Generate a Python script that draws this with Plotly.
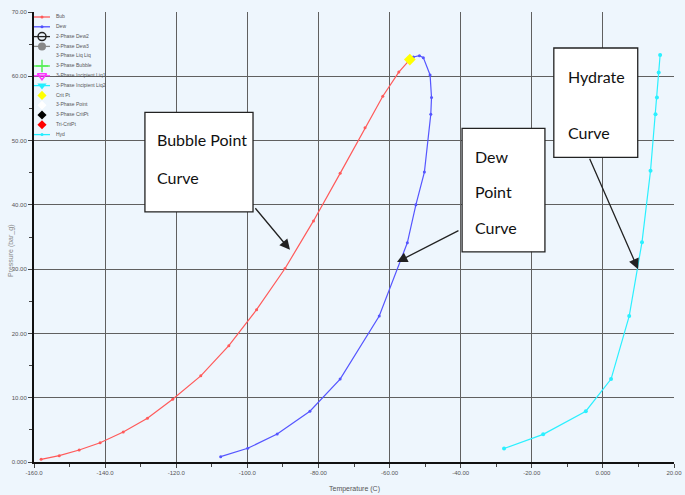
import plotly.graph_objects as go

# ---------------- data ----------------
bub_T = [-158.0, -152.9, -147.3, -141.4, -134.9, -128.1, -121.0, -113.1, -105.2,
         -97.4, -89.4, -81.4, -73.9, -66.9, -61.9, -57.4, -54.3]
bub_P = [0.42, 0.98, 1.87, 3.0, 4.67, 6.8, 9.75, 13.4, 18.1,
         23.7, 30.1, 37.5, 44.9, 52.0, 56.9, 60.65, 62.6]

dew_T = [-107.5, -99.9, -91.6, -82.4, -73.9, -62.9, -55.0, -52.6, -50.2,
         -48.4, -48.2, -48.6, -50.5, -51.6, -53.3, -54.3]
dew_P = [0.83, 2.13, 4.35, 7.9, 12.9, 22.7, 34.1, 40.0, 45.1,
         54.1, 56.7, 60.2, 62.9, 63.2, 63.0, 62.6]

hyd_T = [-27.8, -16.8, -4.8, 2.3, 7.4, 11.0, 13.4, 14.8, 15.2, 15.7, 16.1]
hyd_P = [2.1, 4.3, 7.9, 12.9, 22.7, 34.2, 45.3, 54.1, 56.7, 60.6, 63.3]

crit_T = [-54.3]
crit_P = [62.6]

x_ticks = [-160, -140, -120, -100, -80, -60, -40, -20, 0, 20]
x_ticktext = ["-160.0", "-140.0", "-120.0", "-100.0", "-80.00", "-60.00",
              "-40.00", "-20.00", "0.000", "20.00"]
y_ticks = [0, 10, 20, 30, 40, 50, 60, 70]
y_ticktext = ["0.000", "10.00", "20.00", "30.00", "40.00", "50.00", "60.00", "70.00"]

legend_names = ["Bub", "Dew", "2-Phase Dew2", "2-Phase Dew3", "3-Phase Liq Liq",
                "3-Phase Bubble", "3-Phase Incipient Liq1", "3-Phase Incipient Liq2",
                "Crit Pt", "3-Phase Point", "3-Phase CritPt", "Tri-CritPt", "Hyd"]
legend_colors = ["#ff5a5a", "#5050ff", "#222222", "#888888", "rgba(0,0,0,0)",
                 "#55ee55", "#ff33ff", "#22eeff", "#ffff00", "#ffffff",
                 "#000000", "#ff0000", "#22eeff"]
legend_symbols = ["circle", "circle", "circle-open", "circle", "circle",
                  "cross-thin-open", "triangle-down-open", "triangle-down", "diamond",
                  "diamond", "diamond", "diamond", "circle"]
legend_msize = [3, 3, 8, 8, 0, 9, 8, 8, 7, 7, 7, 7, 3]
legend_hasline = [True, True, True, True, False, True, True, True,
                  False, False, False, False, True]

bg = "#eef6fd"
box_font = "Lato"
fig = go.Figure()

fig.add_trace(go.Scatter(x=bub_T, y=bub_P, mode="lines+markers",
                         line=dict(color="#ff5a5a", width=1.2),
                         marker=dict(size=3, color="#ff5a5a"), showlegend=False))
fig.add_trace(go.Scatter(x=dew_T, y=dew_P, mode="lines+markers",
                         line=dict(color="#5555ff", width=1.2),
                         marker=dict(size=3, color="#5555ff"), showlegend=False))
fig.add_trace(go.Scatter(x=hyd_T, y=hyd_P, mode="lines+markers",
                         line=dict(color="#2af0ff", width=1.2),
                         marker=dict(size=4, color="#2af0ff"), showlegend=False))
fig.add_trace(go.Scatter(x=crit_T, y=crit_P, mode="markers",
                         marker=dict(size=9, color="#ffff00", symbol="diamond"),
                         showlegend=False))

# ---- manual legend on an overlay pixel axis ----
leg_y0, leg_dy = 17, 9.8
for i, name in enumerate(legend_names):
    yy = leg_y0 + i * leg_dy
    if legend_hasline[i]:
        fig.add_trace(go.Scatter(x=[34, 50], y=[yy, yy], mode="lines",
                                 line=dict(color=legend_colors[i], width=1.3),
                                 xaxis="x2", yaxis="y2", showlegend=False,
                                 hoverinfo="skip"))
    if legend_msize[i] > 0:
        sym = legend_symbols[i]
        lw = 1.5 if ("open" in sym) else 0
        fig.add_trace(go.Scatter(x=[42], y=[yy], mode="markers",
                                 marker=dict(size=legend_msize[i], color=legend_colors[i],
                                             symbol=sym,
                                             line=dict(width=lw, color=legend_colors[i])),
                                 xaxis="x2", yaxis="y2", showlegend=False,
                                 hoverinfo="skip"))
    fig.add_trace(go.Scatter(x=[56], y=[yy], mode="text", text=[name],
                             textposition="middle right",
                             textfont=dict(size=5, color="#555555", family="Liberation Sans"),
                             xaxis="x2", yaxis="y2", showlegend=False, hoverinfo="skip"))

# ---- annotation boxes ----
boxes = [(-128.8, -98.4, 38.9, 54.4), (-39.6, -16.3, 32.7, 51.9), (-13.8, 9.8, 47.4, 64.4)]
for x0, x1, y0, y1 in boxes:
    fig.add_shape(type="rect", x0=x0, x1=x1, y0=y0, y1=y1, xref="x", yref="y",
                  fillcolor="white", line=dict(color="#222222", width=1.3), layer="above")

labels = [("Bubble Point", -126.0, 50.1), ("Curve", -126.0, 44.2),
          ("Dew", -36.5, 47.6), ("Point", -36.5, 42.1), ("Curve", -36.5, 36.5),
          ("Hydrate", -10.4, 59.9), ("Curve", -10.4, 51.3)]
for txt, x, y in labels:
    fig.add_annotation(x=x, y=y, text=txt, showarrow=False, xanchor="left",
                       font=dict(size=16, color="#111111", family=box_font))

arrows = [(-98.1, 39.7, -88.0, 33.0), (-40.2, 36.1, -57.9, 31.1), (-3.9, 47.4, 9.9, 30.0)]
for tx, ty, hx, hy in arrows:
    fig.add_annotation(x=hx, y=hy, ax=tx, ay=ty, axref="x", ayref="y", xref="x", yref="y",
                       text="", showarrow=True, arrowhead=2, arrowsize=1.6,
                       arrowwidth=1.3, arrowcolor="#222222")

# axis titles
fig.add_annotation(x=0.5, y=-0.06, xref="paper", yref="paper", text="Temperature (C)",
                   showarrow=False, yanchor="middle",
                   font=dict(size=7, color="#555555", family="Liberation Sans"))
fig.add_annotation(x=-0.046, y=0.47, xref="paper", yref="paper", text="Pressure (bar_g)",
                   showarrow=False, textangle=-90,
                   font=dict(size=7, color="#888888", family="Liberation Sans"))

fig.update_layout(
    width=685, height=495,
    margin=dict(l=34, r=11, t=12, b=33, autoexpand=False),
    paper_bgcolor=bg, plot_bgcolor=bg,
    showlegend=False,
    xaxis=dict(range=[-160, 20], tickvals=x_ticks, ticktext=x_ticktext, automargin=False,
               showgrid=True, gridcolor="#606060", gridwidth=1.2,
               showline=True, linecolor="#111111", linewidth=2,
               ticks="outside", ticklen=4, tickcolor="#444444",
               minor=dict(dtick=10, ticks="outside", ticklen=3, tickcolor="#444444", showgrid=False),
               tickfont=dict(size=6, color="#555555", family="Liberation Sans"),
               zeroline=False, fixedrange=True),
    yaxis=dict(range=[0, 70], tickvals=y_ticks, ticktext=y_ticktext, automargin=False,
               showgrid=True, gridcolor="#606060", gridwidth=1.2,
               showline=True, linecolor="#111111", linewidth=2,
               ticks="outside", ticklen=4, tickcolor="#444444",
               minor=dict(dtick=5, ticks="outside", ticklen=3, tickcolor="#444444", showgrid=False),
               tickfont=dict(size=6, color="#555555", family="Liberation Sans"),
               zeroline=False, fixedrange=True),
    xaxis2=dict(range=[34, 674], overlaying="x", visible=False, fixedrange=True, automargin=False),
    yaxis2=dict(range=[462, 12], overlaying="y", visible=False, fixedrange=True, automargin=False),
)

fig.write_html("out.html", config={"displayModeBar": False},
               post_script="document.body.style.margin='0';document.body.style.background='%s';" % bg)
